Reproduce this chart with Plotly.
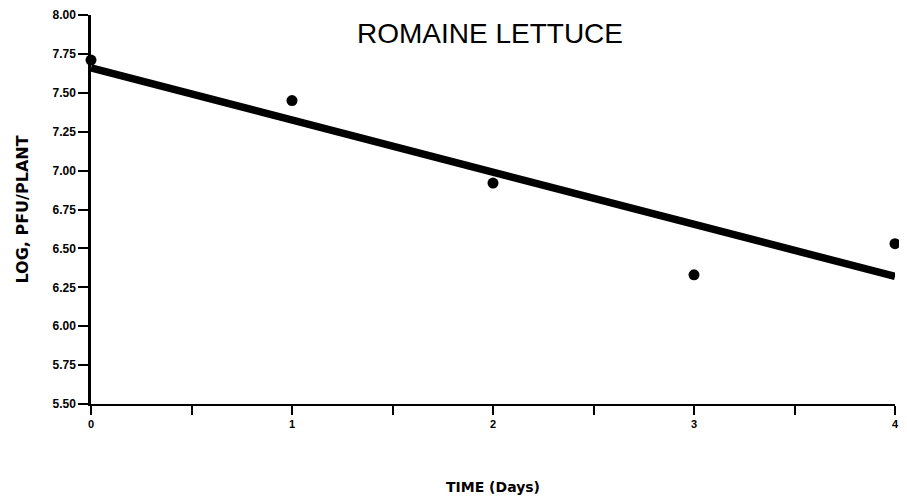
import plotly.graph_objects as go

# Data
days = [0, 1, 2, 3, 4]
log_pfu = [7.71, 7.45, 6.92, 6.33, 6.53]
fit_x = [0, 4]
fit_y = [7.66, 6.32]

x_tickvals = [0, 0.5, 1, 1.5, 2, 2.5, 3, 3.5, 4]
x_ticktext = ["0", "", "1", "", "2", "", "3", "", "4"]
y_tickvals = [5.50, 5.75, 6.00, 6.25, 6.50, 6.75, 7.00, 7.25, 7.50, 7.75, 8.00]
y_ticktext = ["%.2f" % v for v in y_tickvals]

FONT = "Liberation Sans, Arial, sans-serif"
WIDE = "DejaVu Sans, Liberation Sans, sans-serif"

# page body has an 8px margin, so the figure is sized/offset accordingly
W, H = 899, 492

fig = go.Figure()
fig.add_trace(go.Scatter(x=fit_x, y=fit_y, mode="lines",
                         line=dict(color="black", width=7.5), showlegend=False))
fig.add_trace(go.Scatter(x=days, y=log_pfu, mode="markers",
                         marker=dict(color="black", size=11), showlegend=False,
                         cliponaxis=False))

fig.update_layout(
    width=W, height=H,
    margin=dict(l=83, r=12, t=7, b=96, autoexpand=False),
    paper_bgcolor="white", plot_bgcolor="white",
    font=dict(family=FONT, color="black"),
    title=dict(text="ROMAINE LETTUCE", x=482/W, xanchor="center",
               y=1-25/H, yanchor="middle",
               font=dict(size=28, color="black", family=FONT)),
)
fig.update_xaxes(
    range=[0, 4], tickvals=x_tickvals, ticktext=x_ticktext,
    automargin=False,
    showgrid=False, zeroline=False,
    showline=True, linecolor="black", linewidth=2,
    ticks="outside", ticklen=9, tickwidth=2, tickcolor="black",
    tickfont=dict(size=11, family=FONT, weight="bold"),
    title=dict(text="<b>TIME (Days)</b>", font=dict(size=14, family=WIDE), standoff=53),
)
fig.update_yaxes(
    range=[5.5, 8.0], tickvals=y_tickvals, ticktext=y_ticktext,
    automargin=False,
    showgrid=False, zeroline=False,
    showline=True, linecolor="black", linewidth=2.5,
    ticks="outside", ticklen=10, tickwidth=2, tickcolor="black",
    tickfont=dict(size=12, family=FONT, weight="bold"),
    title=dict(text="<b>LOG, PFU/PLANT</b>", font=dict(size=16, family=WIDE), standoff=20),
)

fig.write_html("out.html")
